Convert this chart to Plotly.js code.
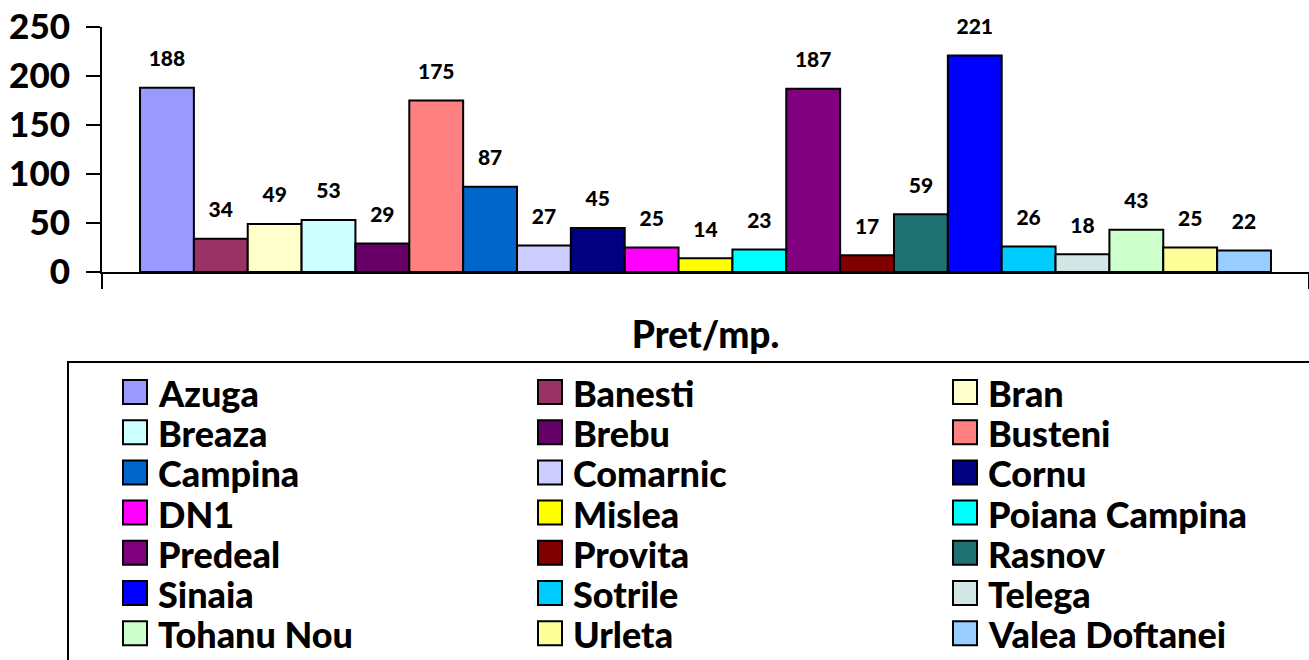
<!DOCTYPE html>
<html>
<head>
<meta charset="utf-8">
<script src="https://cdn.plot.ly/plotly-3.0.1.min.js"></script>
<style>html,body{margin:0;padding:0;background:#fff;}#chart{width:1309px;height:660px;}</style>
</head>
<body>
<div id="chart"></div>
<script>
const categories = ['Pret/mp.'];
const seriesNames = ['Azuga','Banesti','Bran','Breaza','Brebu','Busteni','Campina','Comarnic','Cornu','DN1','Mislea','Poiana Campina','Predeal','Provita','Rasnov','Sinaia','Sotrile','Telega','Tohanu Nou','Urleta','Valea Doftanei'];
const seriesValues = [188,34,49,53,29,175,87,27,45,25,14,23,187,17,59,221,26,18,43,25,22];
const seriesColors = ['#9999FF','#993366','#FFFFCC','#CCFFFF','#660066','#FF8080','#0066CC','#CCCCFF','#000080','#FF00FF','#FFFF00','#00FFFF','#800080','#800000','#1F7070','#0000FF','#00CCFF','#D3E6E6','#CCFFCC','#FFFF99','#99CCFF'];
const yTicks = [0,50,100,150,200,250];

const FONT = 'Lato, "Open Sans", sans-serif';
const W = 1309, H = 660;
const ML = 102, MR = 0, MT = 27, MB = 388;
const PW = W - ML - MR, PH = H - MT - MB;
const px = v => (v - ML) / PW;
const py = v => (H - MB - v) / PH;

const traces = seriesNames.map((name, i) => ({
  type: 'bar',
  name: name,
  x: categories,
  y: [seriesValues[i]],
  marker: {color: seriesColors[i], line: {color: '#000', width: 2}},
  text: [String(seriesValues[i])],
  texttemplate: '<span style="font-size:21px">%{text}</span><br> ',
  textposition: 'outside',
  textfont: {family: FONT, size: 12, color: '#000', weight: 900},
  constraintext: 'none',
  cliponaxis: false,
  hoverinfo: 'name+y'
}));

const shapes = [{
  type: 'rect', xref: 'paper', yref: 'paper',
  x0: px(68), x1: px(1330), y0: py(362), y1: py(680),
  line: {color: '#000', width: 2}, fillcolor: 'rgba(0,0,0,0)'
}];
const annotations = [];
const colX = [123, 538, 953];
const rowY0 = 392, rowStep = 40.2, sq = 24;
seriesNames.forEach((name, i) => {
  const c = i % 3, r = Math.floor(i / 3);
  const cx = colX[c], cy = rowY0 + r * rowStep;
  shapes.push({
    type: 'rect', xref: 'paper', yref: 'paper',
    x0: px(cx), x1: px(cx + sq), y0: py(cy - sq / 2), y1: py(cy + sq / 2),
    line: {color: '#000', width: 2}, fillcolor: seriesColors[i]
  });
  annotations.push({
    xref: 'paper', yref: 'paper', x: px(cx + 33), y: py(cy + 1),
    xanchor: 'left', yanchor: 'middle', showarrow: false,
    text: name, font: {family: FONT, size: 36, color: '#000', weight: 900}
  });
});

const layout = {
  width: W, height: H,
  margin: {l: ML, r: MR, t: MT, b: MB},
  paper_bgcolor: '#fff', plot_bgcolor: '#fff',
  barmode: 'group', bargap: 0.063, bargroupgap: 0,
  showlegend: false,
  xaxis: {
    type: 'category', showline: true, linecolor: '#000', linewidth: 2,
    ticks: 'outside', tickson: 'boundaries', ticklen: 15, tickwidth: 2, tickcolor: '#000',
    tickfont: {family: FONT, size: 37, color: '#000', weight: 900},
    ticklabelstandoff: 30, showgrid: false, zeroline: false, fixedrange: true
  },
  yaxis: {
    range: [0, 250], tickvals: yTicks, ticktext: yTicks.map(String),
    showline: true, linecolor: '#000', linewidth: 2,
    ticks: 'outside', ticklen: 14, tickwidth: 2, tickcolor: '#000',
    tickfont: {family: FONT, size: 35, color: '#000', weight: 900},
    ticklabelstandoff: 9, showgrid: false, zeroline: false, fixedrange: true
  },
  shapes: shapes,
  annotations: annotations
};

Plotly.newPlot('chart', traces, layout, {displayModeBar: false, staticPlot: true});
</script>
</body>
</html>
